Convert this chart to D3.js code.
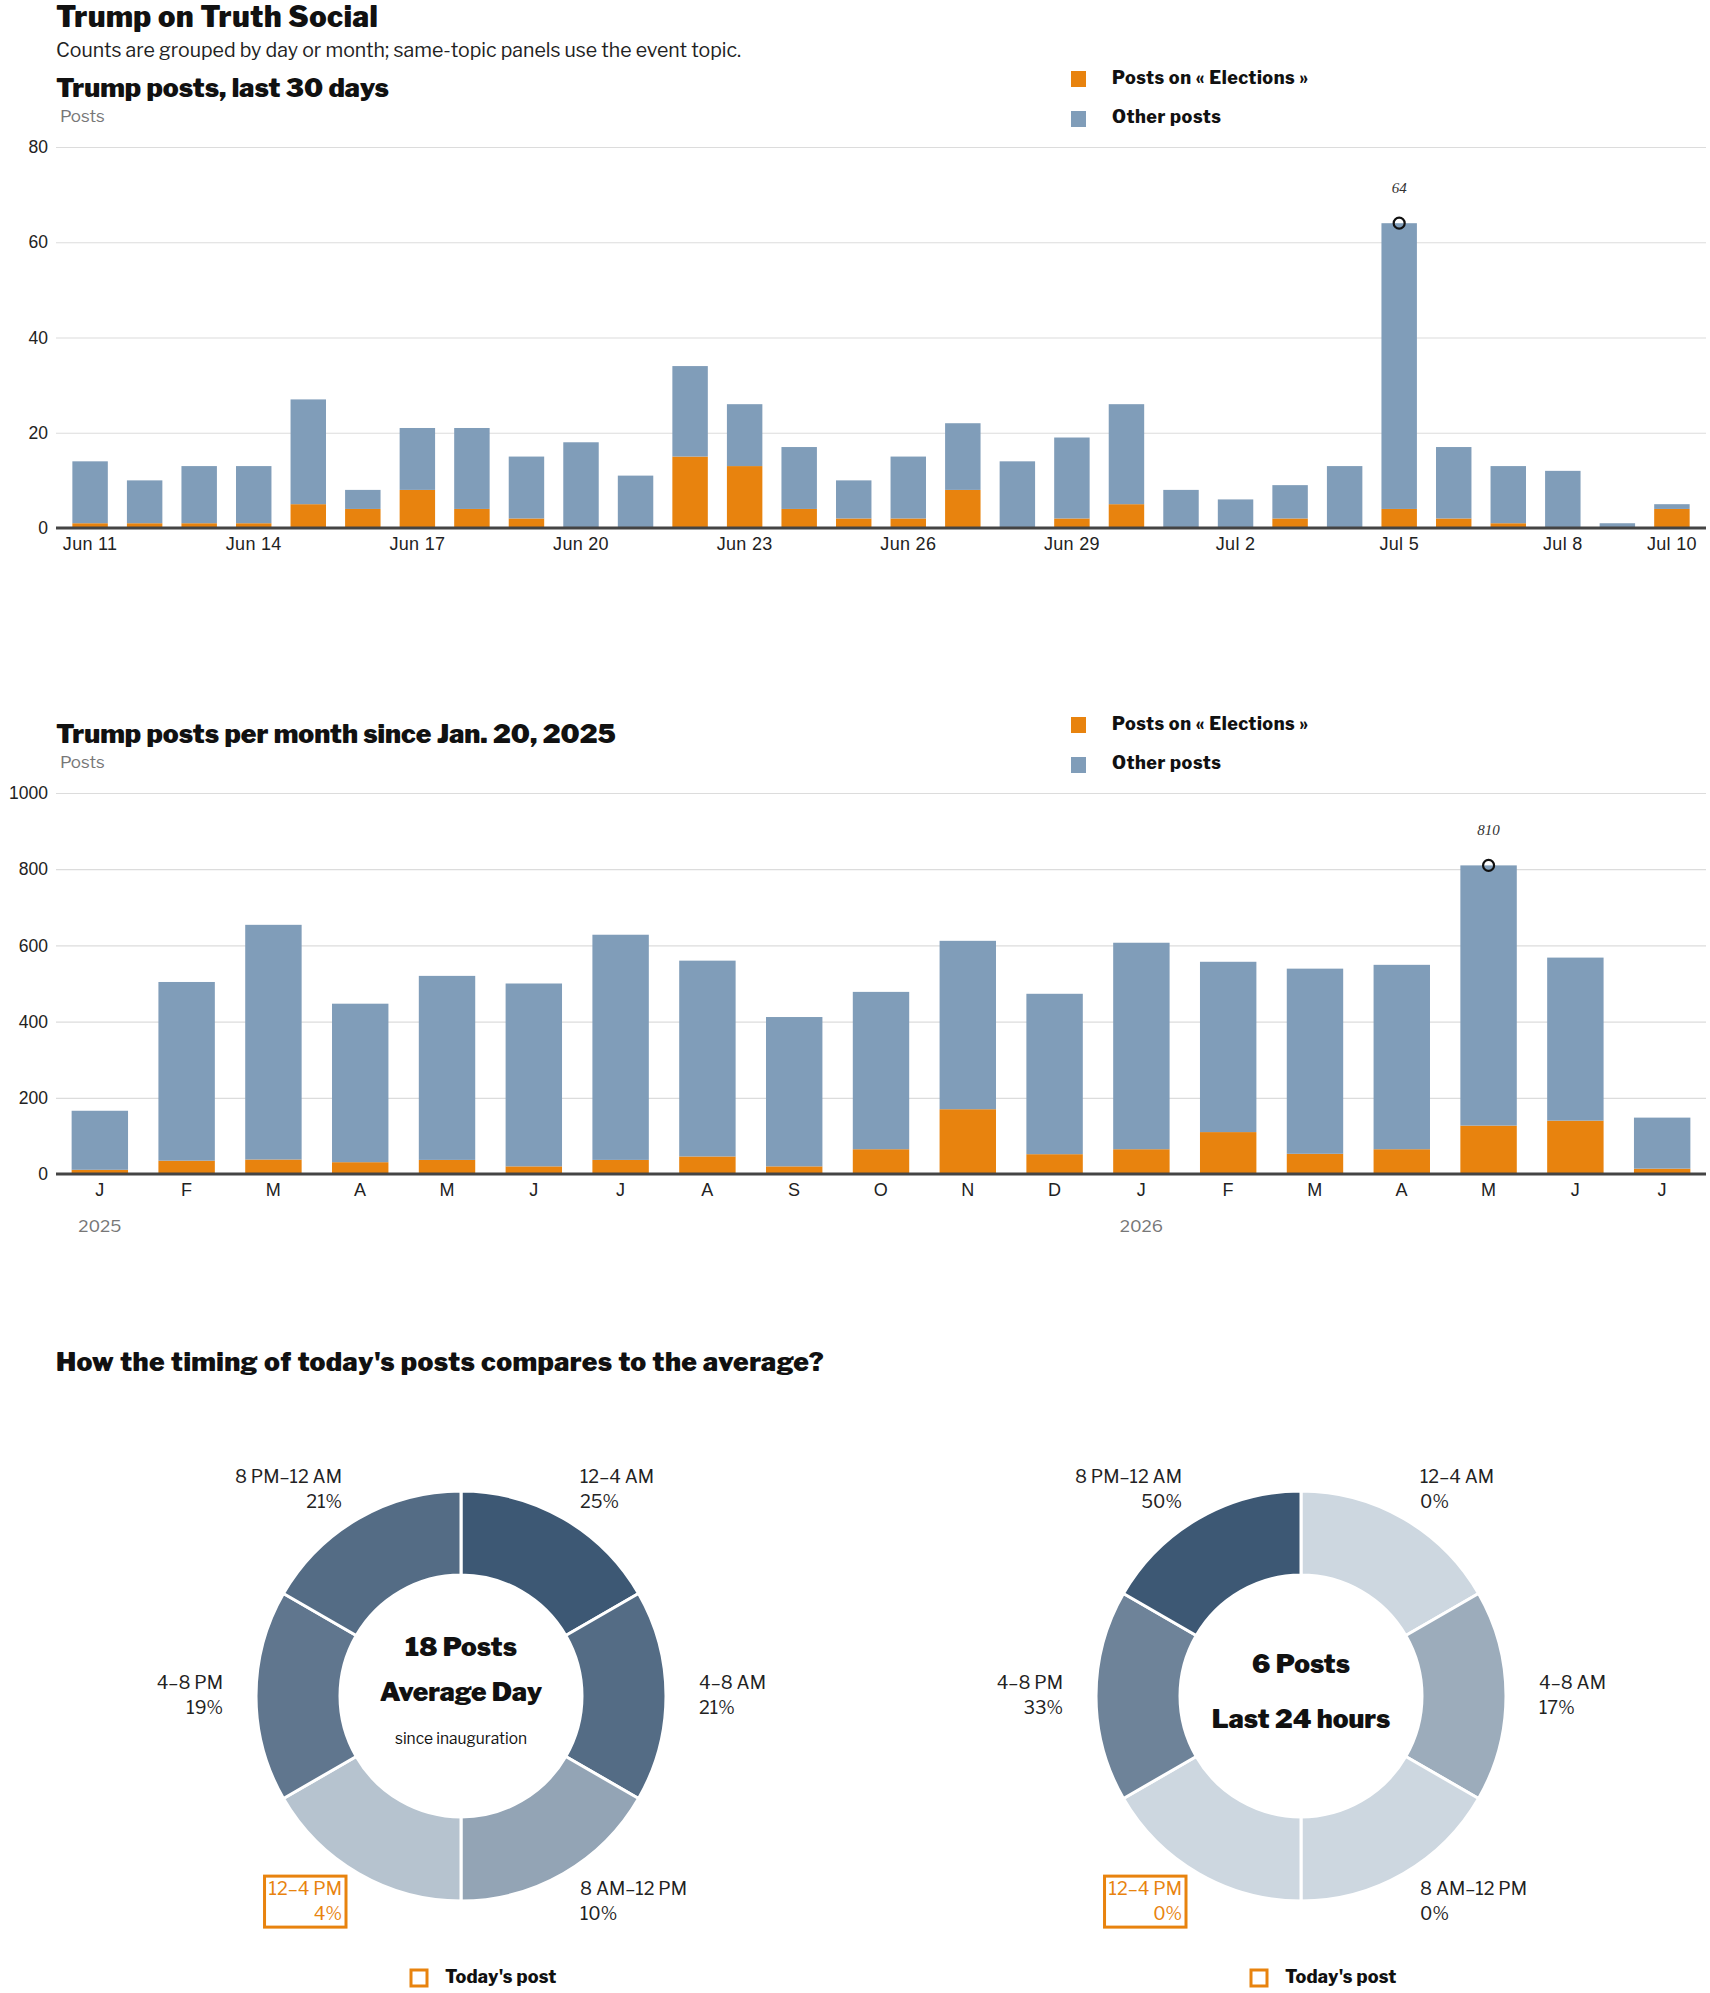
<!DOCTYPE html>
<html>
<head>
<meta charset="utf-8">
<script src="https://cdn.jsdelivr.net/npm/d3@7"></script>
<style>
  html, body { margin: 0; padding: 0; background: #fff; }
  svg { display: block; font-family: "Libre Franklin", Roboto, "Noto Sans", sans-serif; }
  .heavy { font-weight: 900; fill: #111; }
</style>
</head>
<body>
<svg id="chart" width="1710" height="1993"></svg>
<script>
// ---------- DATA ----------
const dailyDates = ["2025-06-11","2025-06-12","2025-06-13","2025-06-14","2025-06-15","2025-06-16","2025-06-17","2025-06-18","2025-06-19","2025-06-20",
  "2025-06-21","2025-06-22","2025-06-23","2025-06-24","2025-06-25","2025-06-26","2025-06-27","2025-06-28","2025-06-29","2025-06-30",
  "2025-07-01","2025-07-02","2025-07-03","2025-07-04","2025-07-05","2025-07-06","2025-07-07","2025-07-08","2025-07-09","2025-07-10"];
const dailyElections = [1,1,1,1,5,4,8,4,2,0,0,15,13,4,2,2,8,0,2,5,0,0,2,0,4,2,1,0,0,4];
const dailyOther     = [13,9,12,12,22,4,13,17,13,18,11,19,13,13,8,13,14,14,17,21,8,6,7,13,60,15,12,12,1,1];
const dailyTickDates = ["2025-06-11","2025-06-14","2025-06-17","2025-06-20","2025-06-23","2025-06-26","2025-06-29","2025-07-02","2025-07-05","2025-07-08","2025-07-10"];
const dailyYTicks = [0,20,40,60,80];

const months = ["2025-01","2025-02","2025-03","2025-04","2025-05","2025-06","2025-07","2025-08","2025-09","2025-10","2025-11","2025-12",
  "2026-01","2026-02","2026-03","2026-04","2026-05","2026-06","2026-07"];
const monthLabels = ["J","F","M","A","M","J","J","A","S","O","N","D","J","F","M","A","M","J","J"];
const monthlyElections = [11,35,38,31,37,20,37,46,20,65,170,52,65,110,53,65,127,140,14];
const monthlyOther     = [155,469,616,416,483,480,591,514,392,413,442,421,542,447,486,484,683,428,134];
const monthlyYTicks = [0,200,400,600,800,1000];
const yearLabels = [{month:"2025-01", label:"2025"}, {month:"2026-01", label:"2026"}];

const slots = ["12–4 AM","4–8 AM","8 AM–12 PM","12–4 PM","4–8 PM","8 PM–12 AM"];
const averageShare = [25,21,10,4,19,21];
const last24Share  = [0,17,0,0,33,50];
const todaySlot = "12–4 PM";

const seriesNames = ["Posts on « Elections »","Other posts"];
const colors = { elections: "#E8830E", other: "#809DB9", axis: "#444", grid: "#dcdcdc" };

// ---------- SETUP ----------
const svg = d3.select("#chart");
const left = 56, right = 1706;

svg.append("text").attr("class","heavy").attr("x",left).attr("y",27).attr("font-size",29)
  .attr("letter-spacing",0.5).text("Trump on Truth Social");
svg.append("text").attr("x",left).attr("y",57).attr("font-size",19.5).attr("fill","#222")
  .text("Counts are grouped by day or month; same-topic panels use the event topic.");

function stackedPanel(opts) {
  const g = svg.append("g").attr("transform", `translate(0,${opts.offset})`);
  g.append("text").attr("class","heavy").attr("x",left).attr("y",97).attr("font-size",26.5).text(opts.title);
  g.append("text").attr("x",60).attr("y",122).attr("font-size",17).attr("fill","#777").text("Posts");

  // legend
  const leg = g.append("g");
  seriesNames.forEach((name, i) => {
    leg.append("rect").attr("x",1071).attr("y",71 + i*40).attr("width",15).attr("height",16)
      .attr("fill", i === 0 ? colors.elections : colors.other);
    leg.append("text").attr("x",1112).attr("y",83.5 + i*39.5).attr("font-size",18).attr("font-weight",800)
      .attr("letter-spacing",0.5).attr("fill","#111").text(name);
  });

  const y = d3.scaleLinear().domain([0, opts.yMax]).range([528, 147]);
  const x = d3.scaleBand().domain(opts.keys).range([left, right]).paddingInner(0.35).paddingOuter(opts.padOuter);

  // grid
  const yAxis = d3.axisLeft(y).tickValues(opts.yTicks).tickFormat(d3.format("d")).tickSize(-(right-left)).tickPadding(8);
  const ga = g.append("g").attr("transform",`translate(${left},0)`).call(yAxis);
  ga.select(".domain").remove();
  ga.selectAll(".tick line").attr("stroke", colors.grid).attr("stroke-width",1.2);
  ga.selectAll(".tick text").attr("font-size",17.5).attr("fill","#222").attr("font-family","inherit");

  const rows = opts.keys.map((k,i) => ({key:k, elections: opts.elections[i], other: opts.other[i]}));
  const stack = d3.stack().keys(["elections","other"])(rows);
  g.append("g").selectAll("g").data(stack).join("g")
    .attr("fill", d => colors[d.key])
    .selectAll("rect").data(d => d).join("rect")
      .attr("x", d => x(d.data.key))
      .attr("width", x.bandwidth())
      .attr("y", d => y(d[1]))
      .attr("height", d => y(d[0]) - y(d[1]));

  // x axis
  const xAxis = d3.axisBottom(x).tickValues(opts.tickKeys).tickFormat(opts.tickFormat).tickSize(0).tickPadding(9);
  const gx = g.append("g").attr("transform","translate(0,528)").call(xAxis);
  gx.select(".domain").remove();
  gx.selectAll(".tick text").attr("font-size",18).attr("letter-spacing",0.3).attr("fill","#222").attr("font-family","inherit");
  g.append("line").attr("x1",left).attr("x2",right).attr("y1",528).attr("y2",528)
    .attr("stroke",colors.axis).attr("stroke-width",3);

  // peak annotation
  const totals = rows.map(r => r.elections + r.other);
  const maxI = d3.maxIndex(totals);
  const cx = x(rows[maxI].key) + x.bandwidth()/2;
  g.append("circle").attr("cx",cx).attr("cy",y(totals[maxI])).attr("r",5.5)
    .attr("fill","none").attr("stroke","#111").attr("stroke-width",2.2);
  g.append("text").attr("x",cx).attr("y",y(totals[maxI]) - 30).attr("text-anchor","middle")
    .attr("font-size",15).attr("font-style","italic").attr("fill","#333")
    .attr("font-family","'Liberation Serif', serif").text(totals[maxI]);

  if (opts.after) opts.after(g, x);
}

const fmtDay = d3.timeFormat("%b %-d");
const parseDay = d3.timeParse("%Y-%m-%d");

stackedPanel({
  offset: 0,
  title: "Trump posts, last 30 days",
  keys: dailyDates,
  elections: dailyElections,
  other: dailyOther,
  yMax: 80, yTicks: dailyYTicks,
  padOuter: 0.3,
  tickKeys: dailyTickDates,
  tickFormat: d => fmtDay(parseDay(d))
});

stackedPanel({
  offset: 646,
  title: "Trump posts per month since Jan. 20, 2025",
  keys: months,
  elections: monthlyElections,
  other: monthlyOther,
  yMax: 1000, yTicks: monthlyYTicks,
  padOuter: 0.18,
  tickKeys: months,
  tickFormat: d => monthLabels[months.indexOf(d)],
  after: (g, x) => {
    g.selectAll(".year").data(yearLabels).join("text").attr("class","year")
      .attr("x", d => x(d.month) + x.bandwidth()/2).attr("y",586).attr("text-anchor","middle")
      .attr("font-size",17).attr("fill","#777").text(d => d.label);
  }
});

// ---------- DONUTS ----------
svg.append("text").attr("class","heavy").attr("x",left).attr("y",1371).attr("font-size",26.5)
  .attr("letter-spacing",0.4).text("How the timing of today's posts compares to the average?");

function donut(cx, cy, shares, centerLines) {
  const g = svg.append("g").attr("transform",`translate(${cx},${cy})`);
  const color = d3.scaleLinear().domain([0, d3.max(shares)]).range(["#cdd7e0","#3d5874"]);
  const data = slots.map((s,i) => ({slot:s, share:shares[i]}));
  const pie = d3.pie().value(() => 1).sort(null);
  const arc = d3.arc().innerRadius(121).outerRadius(205);
  const arcs = pie(data);
  g.selectAll("path").data(arcs).join("path")
    .attr("d", arc).attr("fill", d => color(d.data.share))
    .attr("stroke","#fff").attr("stroke-width",3);

  const lr = 238;
  arcs.forEach(a => {
    const mid = (a.startAngle + a.endAngle)/2;
    const px = lr*Math.sin(mid), py = -lr*Math.cos(mid);
    const anchor = px > 0 ? "start" : "end";
    const hl = a.data.slot === todaySlot;
    const t = g.append("text").attr("text-anchor",anchor).attr("font-size",18)
      .attr("fill", hl ? colors.elections : "#222");
    t.append("tspan").attr("x",px).attr("y",py-7).text(a.data.slot);
    t.append("tspan").attr("x",px).attr("y",py+18).text(a.data.share + "%");
    if (hl) {
      const b = t.node().getBBox();
      g.insert("rect","text").attr("x",b.x-4).attr("y",b.y-2).attr("width",b.width+8).attr("height",b.height+5)
        .attr("fill","none").attr("stroke",colors.elections).attr("stroke-width",3);
    }
  });

  centerLines.forEach(l => {
    g.append("text").attr("x",0).attr("y",l.y).attr("text-anchor","middle")
      .attr("font-size",l.size).attr("font-weight",l.bold ? 900 : 400).attr("fill","#111").text(l.text);
  });

  g.append("rect").attr("x",-50).attr("y",274).attr("width",16).attr("height",16)
    .attr("fill","none").attr("stroke",colors.elections).attr("stroke-width",3);
  g.append("text").attr("x",-16).attr("y",287).attr("font-size",18).attr("font-weight",800)
    .attr("letter-spacing",0.2).attr("fill","#111").text("Today's post");
}

donut(461, 1696, averageShare, [
  {text:"18 Posts", y:-40, size:26.3, bold:true},
  {text:"Average Day", y:5, size:26.3, bold:true},
  {text:"since inauguration", y:48, size:15.5, bold:false}
]);
donut(1301, 1696, last24Share, [
  {text:"6 Posts", y:-23, size:26.3, bold:true},
  {text:"Last 24 hours", y:32, size:26.3, bold:true}
]);
</script>
</body>
</html>
